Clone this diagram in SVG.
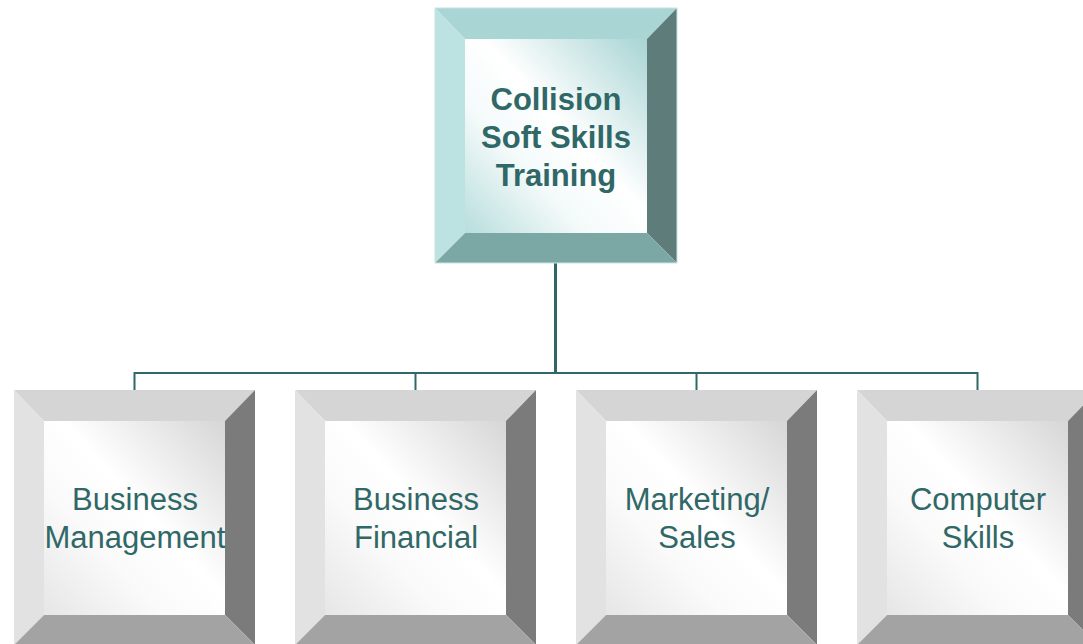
<svg xmlns="http://www.w3.org/2000/svg" width="1083" height="644" viewBox="0 0 1083 644">
<defs>
<linearGradient id="gTeal" x1="0" y1="1" x2="1" y2="0">
<stop offset="0" stop-color="#B8DDDD"/>
<stop offset="0.33" stop-color="#F4FAFA"/>
<stop offset="0.55" stop-color="#FFFFFF"/>
<stop offset="1" stop-color="#A8D4D4"/>
</linearGradient>
<linearGradient id="gGray" x1="0" y1="1" x2="1" y2="0">
<stop offset="0" stop-color="#E6E6E6"/>
<stop offset="0.33" stop-color="#FAFAFA"/>
<stop offset="0.55" stop-color="#FFFFFF"/>
<stop offset="1" stop-color="#D6D6D6"/>
</linearGradient>
</defs>
<style>
.t{font-family:"Liberation Sans",Arial,sans-serif;fill:#2F6866;text-anchor:middle}
.title{font-size:31px;font-weight:bold}
.lbl{font-size:31px}
.conn{stroke:#2F6866;fill:none}
.tt{fill:#A9D5D5}.tl{fill:#BCE2E2}.tr{fill:#5E7C7A}.tb{fill:#7BA8A5}
.gt{fill:#D5D5D5}.gl{fill:#E2E2E2}.gr{fill:#7B7B7B}.gb{fill:#A3A3A3}
.edge{fill:none;stroke:#C8E4E4;stroke-width:1}
</style>
<g id="connectors">
<line class="conn" x1="555.5" y1="263" x2="555.5" y2="372" stroke-width="3"/>
<polyline class="conn" points="134.5,390 134.5,373 977.5,373 977.5,390" stroke-width="2"/>
<line class="conn" x1="415.5" y1="373" x2="415.5" y2="390" stroke-width="2"/>
<line class="conn" x1="696.5" y1="373" x2="696.5" y2="390" stroke-width="2"/>
</g>
<g id="node-top">
<polygon class="tt" points="435,8 677,8 647,39 465,39"/>
<polygon class="tl" points="435,8 465,39 465,233 435,263"/>
<polygon class="tr" points="677,8 677,263 647,233 647,39"/>
<polygon class="tb" points="435,263 465,233 647,233 677,263"/>
<rect x="465" y="39" width="182" height="194" fill="url(#gTeal)"/>
<rect class="edge" x="435" y="8" width="242" height="255"/>
<text class="t title" x="556" y="110">Collision</text>
<text class="t title" x="556" y="148">Soft Skills</text>
<text class="t title" x="556" y="186">Training</text>
</g>
<g id="node-business-management">
<polygon class="gt" points="14,390 255,390 225,421 44,421"/>
<polygon class="gl" points="14,390 44,421 44,615 14,645"/>
<polygon class="gr" points="255,390 255,645 225,615 225,421"/>
<polygon class="gb" points="14,645 44,615 225,615 255,645"/>
<rect x="44" y="421" width="181" height="194" fill="url(#gGray)"/>
<text class="t lbl" x="135" y="510">Business</text>
<text class="t lbl" x="135" y="548">Management</text>
</g>
<g id="node-business-financial">
<polygon class="gt" points="295,390 536,390 506,421 325,421"/>
<polygon class="gl" points="295,390 325,421 325,615 295,645"/>
<polygon class="gr" points="536,390 536,645 506,615 506,421"/>
<polygon class="gb" points="295,645 325,615 506,615 536,645"/>
<rect x="325" y="421" width="181" height="194" fill="url(#gGray)"/>
<text class="t lbl" x="416" y="510">Business</text>
<text class="t lbl" x="416" y="548">Financial</text>
</g>
<g id="node-marketing-sales">
<polygon class="gt" points="576,390 817,390 787,421 606,421"/>
<polygon class="gl" points="576,390 606,421 606,615 576,645"/>
<polygon class="gr" points="817,390 817,645 787,615 787,421"/>
<polygon class="gb" points="576,645 606,615 787,615 817,645"/>
<rect x="606" y="421" width="181" height="194" fill="url(#gGray)"/>
<text class="t lbl" x="697" y="510">Marketing/</text>
<text class="t lbl" x="697" y="548">Sales</text>
</g>
<g id="node-computer-skills">
<polygon class="gt" points="857,390 1098,390 1068,421 887,421"/>
<polygon class="gl" points="857,390 887,421 887,615 857,645"/>
<polygon class="gr" points="1098,390 1098,645 1068,615 1068,421"/>
<polygon class="gb" points="857,645 887,615 1068,615 1098,645"/>
<rect x="887" y="421" width="181" height="194" fill="url(#gGray)"/>
<text class="t lbl" x="978" y="510">Computer</text>
<text class="t lbl" x="978" y="548">Skills</text>
</g>
</svg>
